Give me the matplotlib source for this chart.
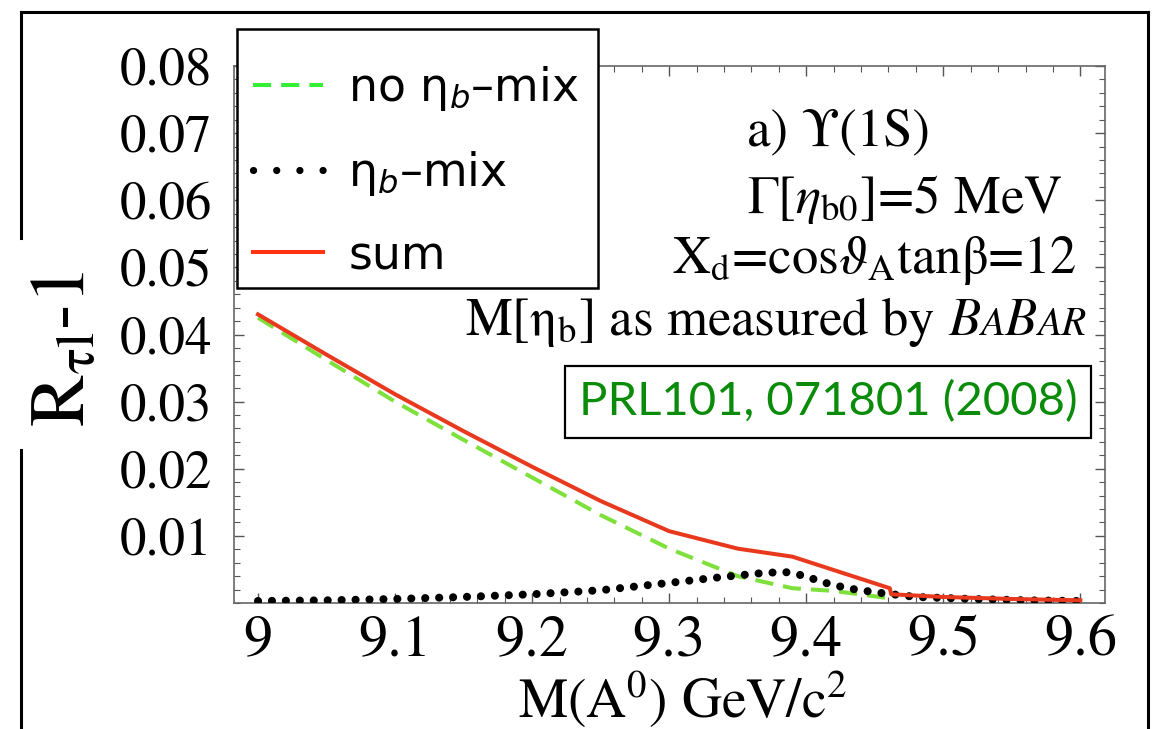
import matplotlib
matplotlib.use('Agg')
import matplotlib.pyplot as plt
from matplotlib.lines import Line2D
from matplotlib.patches import Rectangle
from matplotlib.font_manager import FontProperties
from matplotlib.ticker import MultipleLocator

plt.rcParams['mathtext.fontset'] = 'stix'

# ---------------- data ----------------
x_nomix = [9.00, 9.05, 9.10, 9.15, 9.20, 9.25, 9.30, 9.35, 9.39, 9.42, 9.45, 9.46, 9.461]
y_nomix = [0.0425, 0.0362, 0.0300, 0.0243, 0.0187, 0.0131, 0.0081, 0.0040, 0.0022, 0.0018, 0.0010, 0.0007, 0.0]

x_mix = [9.00, 9.05, 9.10, 9.15, 9.20, 9.25, 9.30, 9.34, 9.37, 9.385, 9.40, 9.41, 9.43, 9.45, 9.48, 9.52, 9.56, 9.60]
y_mix = [0.0003, 0.0004, 0.0006, 0.0009, 0.0013, 0.0019, 0.0030, 0.0039, 0.0045, 0.0046, 0.0040, 0.0032, 0.0022, 0.0016, 0.0009, 0.0006, 0.0004, 0.0003]

x_sum = [9.00, 9.05, 9.10, 9.15, 9.20, 9.25, 9.30, 9.35, 9.39, 9.461, 9.462, 9.50, 9.55, 9.60]
y_sum = [0.0430, 0.0370, 0.0311, 0.0256, 0.0203, 0.0152, 0.0107, 0.0081, 0.0069, 0.0022, 0.0013, 0.0009, 0.0006, 0.0004]

x_ticks = [9.0, 9.1, 9.2, 9.3, 9.4, 9.5, 9.6]
x_ticklabels = ["9", "9.1", "9.2", "9.3", "9.4", "9.5", "9.6"]
y_ticks = [0.01, 0.02, 0.03, 0.04, 0.05, 0.06, 0.07, 0.08]
y_ticklabels = ["0.01", "0.02", "0.03", "0.04", "0.05", "0.06", "0.07", "0.08"]

legend_labels = ["no η$_b$–mix", "η$_b$–mix", "sum"]

# ---------------- figure ----------------
W, H = 1158, 729
def fx(px):
    return px / W
def fy(py):
    return 1 - py / H

SERIF = 'STIXGeneral'

fig = plt.figure(figsize=(W / 100, H / 100), dpi=100)
ax = fig.add_axes([fx(234), fy(603), (1105 - 234) / W, (603 - 66) / H])

ax.plot(x_nomix, y_nomix, color='#7EE03A', lw=2.9, linestyle=(0, (4.5, 2.5)), zorder=2)
ax.plot(x_mix, y_mix, color='black', lw=5.8, linestyle=(0, (0.01, 1.72)),
        dash_capstyle='round', zorder=3)
ax.plot(x_sum, y_sum, color='#E8391E', lw=2.9, zorder=4)

ax.set_xlim(8.9825, 9.618)
ax.set_ylim(0, 0.08)
ax.set_xticks(x_ticks)
ax.set_xticklabels(x_ticklabels)
ax.set_yticks(y_ticks)
ax.set_yticklabels(y_ticklabels)
ax.xaxis.set_minor_locator(MultipleLocator(0.02))
ax.yaxis.set_minor_locator(MultipleLocator(0.002))
ax.tick_params(which='both', direction='in', top=True, right=True, color='#555555')
ax.tick_params(which='major', length=7, width=1.0)
ax.tick_params(which='minor', length=4, width=0.8)
ax.tick_params(axis='y', pad=16, labelsize=38)
ax.tick_params(axis='x', pad=9, labelsize=42)
for lab in ax.get_xticklabels() + ax.get_yticklabels():
    lab.set_fontfamily(SERIF)
for sp in ax.spines.values():
    sp.set_color('#666666')
    sp.set_linewidth(1.2)

# axis labels
fig.text(fx(683), fy(718), r"M(A$^0$) GeV/c$^2$", ha='center', va='baseline',
         fontsize=40, family=SERIF)
fig.text(fx(66), fy(349), r"R$_{\mathrm{\tau l}}$‐1", rotation=90,
         ha='center', va='center', fontsize=56, family=SERIF)

# outer frame
frame_kw = dict(transform=fig.transFigure, color='black', lw=2.2)
fig.add_artist(Line2D([fx(21), fx(1148)], [fy(12), fy(12)], **frame_kw))
fig.add_artist(Line2D([fx(1148), fx(1148)], [fy(12), fy(729)], **frame_kw))
fig.add_artist(Line2D([fx(21), fx(21)], [fy(12), fy(238)], **frame_kw))
fig.add_artist(Line2D([fx(21), fx(21)], [fy(450), fy(729)], **frame_kw))

# legend (box drawn separately)
fig.add_artist(Rectangle((fx(237), fy(288)), (598 - 237) / W, (288 - 29) / H,
                         transform=fig.transFigure, facecolor='white', edgecolor='black',
                         lw=1.8, zorder=4))
handles = [
    Line2D([], [], color='#33EE33', lw=2.9, linestyle=(0, (4.5, 2.5))),
    Line2D([], [], color='black', lw=5.2, linestyle=(0, (0.01, 3.2)), dash_capstyle='round'),
    Line2D([], [], color='#FF3311', lw=2.9),
]
leg = fig.legend(handles, legend_labels, loc='upper left', bbox_to_anchor=(fx(253), fy(64)),
                 prop=FontProperties(family='DejaVu Sans', size=33, math_fontfamily='dejavusans'),
                 handlelength=1.53, handletextpad=0.55, labelspacing=0.78, borderpad=0,
                 borderaxespad=0, frameon=False)
leg.set_zorder(5)

# annotations
fs = 38
fig.text(fx(747), fy(145), "a) ϒ(1S)", ha='left', va='baseline', fontsize=fs, family=SERIF)
fig.text(fx(747), fy(213), r"Γ[$\eta_{\rm b0}$]=5 MeV", ha='left', va='baseline', fontsize=fs, family=SERIF)
fig.text(fx(1077), fy(273), r"X$_{\rm d}$=cos$\vartheta_{\rm A}$tanβ=12", ha='right', va='baseline',
         fontsize=fs, family=SERIF)
fig.text(fx(935), fy(335), r"M[η$_{\rm b}$] as measured by", ha='right', va='baseline',
         fontsize=fs, family=SERIF)
prev = fig.text(fx(948), fy(335), "B", ha='left', va='baseline', fontsize=fs, family=SERIF, style='italic')
for piece, size in [("A", 29), ("B", fs), ("AR", 29)]:
    prev = ax.annotate(piece, xy=(1, fy(335)), xycoords=(prev, 'figure fraction'),
                       ha='left', va='baseline', fontsize=size, family=SERIF, style='italic',
                       annotation_clip=False)

fig.text(fx(828), fy(402), "PRL101, 071801 (2008)", ha='center', va='center', fontsize=34,
         family='Lato', color='#0A8C0A',
         bbox=dict(boxstyle='square,pad=0.3', facecolor='white', edgecolor='black', lw=1.6))

fig.savefig('out.png', dpi=100)
